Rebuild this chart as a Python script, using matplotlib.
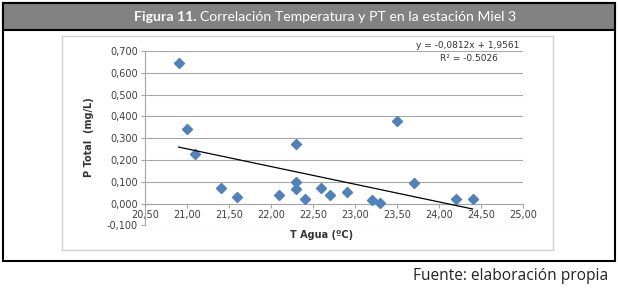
import matplotlib

matplotlib.use("Agg")
import matplotlib.pyplot as plt
from matplotlib.patches import Rectangle
import numpy as np

W, H = 618, 289

# data
temp_agua = [20.9, 21.0, 21.1, 21.4, 21.6, 22.1, 22.3, 22.3, 22.3, 22.4,
             22.6, 22.7, 22.9, 23.2, 23.3, 23.5, 23.7, 24.2, 24.4]
p_total = [0.645, 0.342, 0.225, 0.070, 0.030, 0.040, 0.275, 0.100, 0.065, 0.020,
           0.070, 0.040, 0.055, 0.015, 0.003, 0.378, 0.092, 0.020, 0.020]
slope, intercept = -0.0812, 1.9561
x_ticks = [20.5, 21.0, 21.5, 22.0, 22.5, 23.0, 23.5, 24.0, 24.5, 25.0]
y_ticks = [-0.1, 0.0, 0.1, 0.2, 0.3, 0.4, 0.5, 0.6, 0.7]


def fx(px):
    return px / W


def fy(py):
    return 1 - py / H


def comma(v, nd):
    return f"{v:.{nd}f}".replace(".", ",")


fig = plt.figure(figsize=(W / 100, H / 100), dpi=100)

# outer frame, title bar, chart box
fig.patches.append(Rectangle((fx(3), fy(261)), fx(612), 258 / H, transform=fig.transFigure,
                             facecolor="white", edgecolor="black", lw=1.5, zorder=0))
fig.patches.append(Rectangle((fx(3), fy(30)), fx(612), 27 / H, transform=fig.transFigure,
                             facecolor="#828282", edgecolor="black", lw=1.5, zorder=1))
fig.patches.append(Rectangle((fx(62), fy(250)), fx(491), 214 / H, transform=fig.transFigure,
                             facecolor="white", edgecolor="#d0d0d0", lw=1.0, zorder=1))

fig.text(fx(197), fy(17), "Figura 11.", ha="right", va="center", color="white",
         fontsize=10.2, fontweight="bold", family="Lato")
fig.text(fx(200), fy(17), "Correlación Temperatura y PT en la estación Miel 3",
         ha="left", va="center", color="white", fontsize=10.1, family="Lato")
fig.text(fx(608), fy(276), "Fuente: elaboración propia", ha="right", va="center",
         color="#222222", fontsize=11.2, family="Open Sans")

ax = fig.add_axes([fx(145), fy(225.3), fx(523 - 145), (225.3 - 51) / H], zorder=5)
ax.patch.set_visible(False)
ax.set_xlim(20.5, 25.0)
ax.set_ylim(-0.1, 0.7)
ax.set_xticks(x_ticks)
ax.set_yticks(y_ticks)
ax.set_xticklabels([comma(v, 2) for v in x_ticks])
ax.set_yticklabels([comma(v, 3) for v in y_ticks])
ax.grid(axis="y", color="#a6a6a6", lw=0.8)
ax.set_axisbelow(True)
for s in ["top", "right"]:
    ax.spines[s].set_visible(False)
ax.spines["bottom"].set_position(("data", 0))
ax.spines["bottom"].set_color("#a6a6a6")
ax.spines["left"].set_color("#a6a6a6")
ax.tick_params(axis="both", length=3, color="#a6a6a6", labelsize=7, labelcolor="#404040", pad=2)

ax.plot(temp_agua, p_total, "D", color="#4f81bd", markersize=5.3, zorder=3, clip_on=False)
xt = np.array([min(temp_agua), max(temp_agua)])
ax.plot(xt, slope * xt + intercept, color="black", lw=0.9, zorder=4)

ax.text(0.99, 1.03, "y = -0,0812x + 1,9561", transform=ax.transAxes, ha="right", va="center",
        fontsize=6.5, color="#333333")
ax.text(0.933, 0.955, "R² = -0.5026", transform=ax.transAxes, ha="right", va="center",
        fontsize=6.5, color="#333333")

fig.text(fx(322), fy(235), "T Agua (ºC)", ha="center", va="center", fontsize=7,
         fontweight="bold", color="#333333")
fig.text(fx(89), fy(137), "P Total  (mg/L)", ha="center", va="center", rotation=90,
         fontsize=7, fontweight="bold", color="#333333")

fig.savefig("out.png", dpi=100)
